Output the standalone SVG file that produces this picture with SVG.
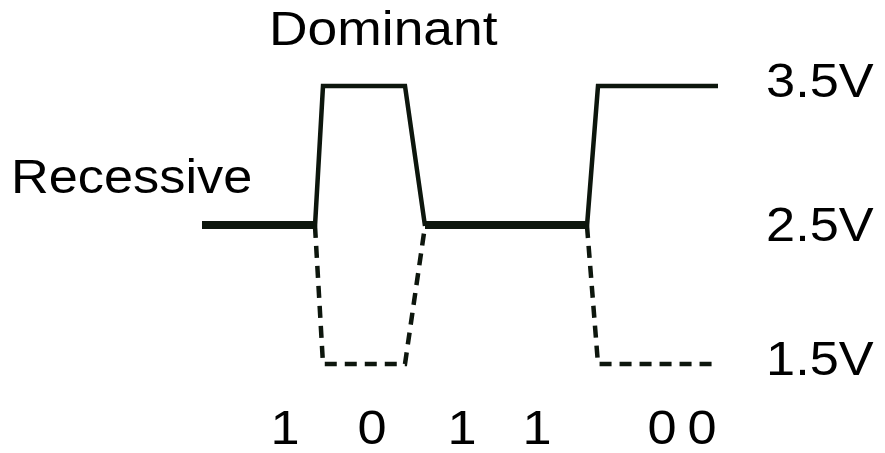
<svg xmlns="http://www.w3.org/2000/svg" width="885" height="453" viewBox="0 0 885 453">
<style>
.lbl{font-family:"Liberation Sans",Arial,sans-serif;font-size:48px;fill:#000}
.sig{fill:none;stroke:#0d160d;stroke-linejoin:miter;stroke-linecap:butt}
.thin{stroke-width:4.5}
.thick{stroke-width:8}
.dash{stroke-width:4.5;stroke-dasharray:12 8}
</style>
<rect width="885" height="453" fill="#fff"/>
<g id="waveform">
  <path id="recessive-1" class="sig thick" d="M202,225 L315,225"/>
  <path id="recessive-2" class="sig thick" d="M425,225 L587,225"/>
  <path id="canh-1" class="sig thin" d="M315,226 L323,86 L405,86 L425,226"/>
  <path id="canh-2" class="sig thin" d="M587,226 L598,86 L718,86"/>
  <path id="canl-1" class="sig dash" d="M315,226 L323,364 L405,364 L425,226"/>
  <path id="canl-2" class="sig dash" d="M587,226 L598,364 L718,364"/>
</g>
<g id="labels" transform="scale(1.09 1)">
  <text id="dominant" class="lbl" x="246.8" y="45" style="font-size:49px">Dominant</text>
  <text id="recessive" class="lbl" x="10.1" y="193">Recessive</text>
  <text id="v35" class="lbl" x="702.8" y="97">3.5V</text>
  <text id="v25" class="lbl" x="702.8" y="241">2.5V</text>
  <text id="v15" class="lbl" x="702.8" y="375">1.5V</text>
  <g id="bits" text-anchor="middle">
    <text class="lbl" x="261.5" y="444">1</text>
    <text class="lbl" x="341.3" y="444">0</text>
    <text class="lbl" x="423.9" y="444">1</text>
    <text class="lbl" x="492.7" y="444">1</text>
    <text class="lbl" x="607.3" y="444">0</text>
    <text class="lbl" x="644.0" y="444">0</text>
  </g>
</g>
</svg>
